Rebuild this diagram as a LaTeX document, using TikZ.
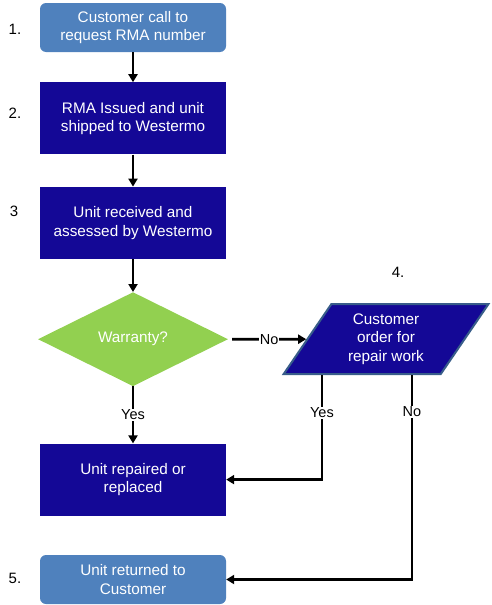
\documentclass[tikz,border=0pt]{standalone}
\usepackage{fontspec}
\setmainfont{Liberation Sans}
\usetikzlibrary{arrows.meta,positioning,shapes.geometric}
\definecolor{endfill}{RGB}{79,129,189}
\definecolor{stepfill}{RGB}{20,8,150}
\definecolor{decfill}{RGB}{146,208,80}
\definecolor{ordrule}{RGB}{56,93,138}

\begin{document}
\begin{tikzpicture}[x=1pt,y=1pt,
  node distance=30pt,>={Triangle[length=8pt,width=9pt]},
  every node/.style={font=\fontsize{15.3}{18.5}\selectfont},
  stepbox/.style={fill=stepfill,text=white,align=center,inner sep=2pt,
              minimum width=186pt,minimum height=72pt},
  endbox/.style={fill=endfill,text=white,align=center,inner sep=2pt,
              rounded corners=6pt,minimum width=186pt,minimum height=49pt},
  decide/.style={diamond,fill=decfill,text=white,inner sep=0pt,
              minimum width=190pt,minimum height=94pt},
  orderbox/.style={trapezium,trapezium left angle=57,trapezium right angle=123,
              trapezium stretches=true,fill=stepfill,draw=ordrule,line width=2pt,
              text=white,align=center,inner sep=0pt,minimum width=205pt,minimum height=70pt},
  num/.style={font=\fontsize{15}{17}\selectfont},
  lbl/.style={font=\fontsize{14.5}{17}\selectfont,fill=white,inner sep=1pt},
  arr/.style={->,line width=2.6pt}]
  \useasboundingbox (0,0) rectangle (491,-605);
  \node[endbox](call) at (133,-27.5){Customer call to\\request RMA number};
  \node[stepbox,below=30pt of call](issue){RMA Issued and unit\\shipped to Westermo};
  \node[stepbox,below=32pt of issue](recv){Unit received and\\assessed by Westermo};
  \node[decide,below=33pt of recv](warr){Warranty?};
  \node[orderbox,right=78pt of warr](order){Customer\\order for\\repair work};
  \node[stepbox,below=57pt of warr](repair){Unit repaired or\\replaced};
  \node[endbox,below=39pt of repair](ret){Unit returned to\\Customer};
  % step numbers
  \node[num](n1) at (15,-29){1.};
  \node[num](n2) at (15,-113){2.};
  \node[num](n3) at (14,-211){3};
  \node[num](n4) at (398,-272){4.};
  \node[num](n5) at (15,-578){5.};
  \draw[arr](call)--(issue);
  \draw[arr](issue)--(recv);
  \draw[arr](recv)--(warr);
  \draw[arr](warr)--node[lbl]{Yes}(repair);
  \draw[arr]([xshift=4pt]warr.east)--node[lbl]{No}(order);
  \draw[arr]([xshift=-64pt]order.south)|-node[lbl,pos=0.18]{Yes}(repair.east);
  \draw[arr]([xshift=26pt]order.south)|-node[lbl,pos=0.09]{No}(ret.east);
\end{tikzpicture}
\end{document}
